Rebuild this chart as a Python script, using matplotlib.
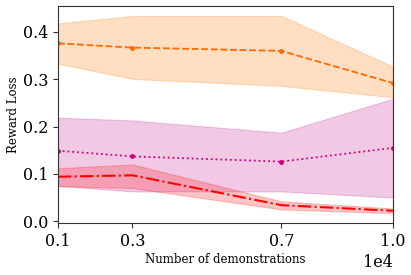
import numpy as np
import matplotlib
matplotlib.use("Agg")
import matplotlib.pyplot as plt

plt.rcParams["font.family"] = "DejaVu Serif"

n_demos = [1000, 3000, 7000, 10000]

# orange, dashed
orange_mean = [0.376, 0.367, 0.360, 0.292]
orange_low = [0.333, 0.301, 0.286, 0.262]
orange_high = [0.418, 0.434, 0.434, 0.327]

# magenta, dotted
magenta_mean = [0.149, 0.137, 0.126, 0.155]
magenta_low = [0.075, 0.063, 0.063, 0.050]
magenta_high = [0.219, 0.213, 0.187, 0.259]

# red, dash-dot
red_mean = [0.094, 0.097, 0.034, 0.022]
red_low = [0.074, 0.070, 0.025, 0.017]
red_high = [0.112, 0.120, 0.042, 0.027]

fig = plt.figure(figsize=(4.11, 2.75), dpi=100)
ax = fig.add_axes([0.141, 0.189, 0.815, 0.789])

ax.fill_between(n_demos, orange_low, orange_high, color="#ff7f0e", alpha=0.25, linewidth=0.8)
ax.plot(n_demos, orange_mean, color="#ff6a00", linestyle="--", marker="o", markersize=2.5, linewidth=1.3)

ax.fill_between(n_demos, magenta_low, magenta_high, color="#cc2b9a", alpha=0.25, linewidth=0.8)
ax.plot(n_demos, magenta_mean, color="#d1007f", linestyle=":", marker="o", markersize=2.5, linewidth=1.3)

ax.fill_between(n_demos, red_low, red_high, color="#ff1a1a", alpha=0.25, linewidth=0.8)
ax.plot(n_demos, red_mean, color="#ff0000", linestyle="-.", linewidth=1.5)

ax.set_xlim(1000, 10000)
ax.set_xticks(n_demos)
ax.set_yticks([0.0, 0.1, 0.2, 0.3, 0.4])
ax.ticklabel_format(axis="x", style="sci", scilimits=(0, 0))
ax.tick_params(labelsize=11.5, length=3.5, color="#333333")
ax.xaxis.get_offset_text().set_fontsize(11.5)
for s in ax.spines.values():
    s.set_color("#333333")

ax.set_xlabel("Number of demonstrations", fontsize=8.5, labelpad=2)
ax.set_ylabel("Reward Loss", fontsize=8.5, labelpad=2)

fig.savefig("out.png", dpi=100)
